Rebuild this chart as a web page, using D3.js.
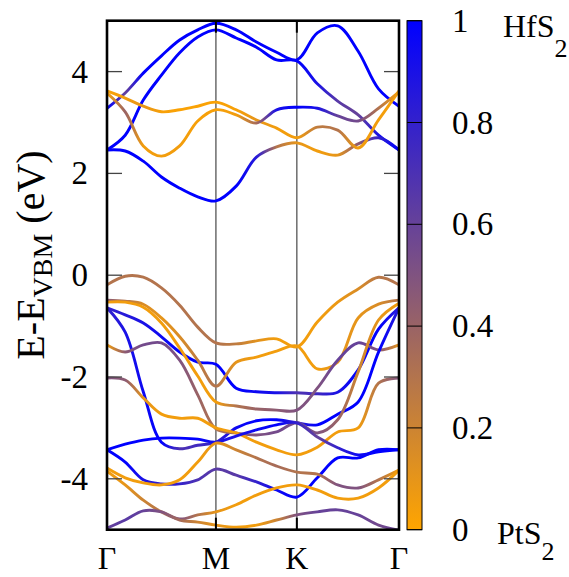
<!DOCTYPE html>
<html>
<head>
<meta charset="utf-8">
<script src="https://cdn.jsdelivr.net/npm/d3@7"></script>
<style>
  body { margin: 0; background: #fff; }
</style>
</head>
<body>
<div id="chart"></div>
<script>
const kGrid = [0, 0.167, 0.333, 0.5, 0.667, 0.833, 1, 1.186, 1.372, 1.557, 1.743, 1.931, 2.118, 2.306, 2.493, 2.681];
const kTicks = [0, 1, 1.743, 2.681];
const kLabels = ['Γ', 'M', 'K', 'Γ'];
const yTicks = [-4, -2, 0, 2, 4];
const cbTicks = [0, 0.2, 0.4, 0.6, 0.8, 1];
const cbLabels = ['0', '0.2', '0.4', '0.6', '0.8', '1'];

// band energies (eV) and HfS2 weight at each k point
const cTop = [3.28, 3.58, 3.97, 4.31, 4.62, 4.82, 4.95, 4.82, 4.58, 4.38, 4.23, 4.76, 4.90, 4.40, 3.66, 3.32];
const wTop = [1, .6, 1, 1, 1, 1, 1, 1, 1, 1, 1, 1, 1, 1, 1, 1];
const cSecond = [2.46, 2.75, 3.44, 3.93, 4.37, 4.68, 4.82, 4.66, 4.48, 4.23, 4.21, 3.76, 3.42, 3.15, 2.75, 2.46];
const wSecond = [1, 1, 1, 1, 1, 1, 1, 1, 1, 1, 1, .9, .65, .6, .9, 1];
const cLow = [2.46, 2.44, 2.24, 1.93, 1.71, 1.54, 1.46, 1.75, 2.32, 2.52, 2.60, 2.44, 2.36, 2.58, 2.70, 2.46];
const wLow = [1, 1, 1, 1, 1, 1, 1, 1, .85, .3, .1, .05, .1, .45, .8, 1];
const cOrA = [3.62, 3.48, 3.32, 3.21, 3.25, 3.32, 3.40, 3.25, 3.05, 2.89, 2.70, 2.91, 2.85, 2.50, 3.05, 3.62];
const wOrA = [.02, .05, .1, .03, .02, .02, .02, .03, .1, .05, .05, .25, .3, .05, .05, .02];
const cOrB = [3.58, 3.21, 2.54, 2.34, 2.54, 3.03, 3.25, 3.15, 2.99, 3.25, 3.30, 3.28, 3.13, 3.03, 3.28, 3.60];
const wOrB = [.02, .4, .05, .05, .05, .03, .03, .05, .35, .9, 1, .9, .6, .55, .3, .02];

const v1 = [-0.19, -0.02, -0.04, -0.25, -0.59, -1.02, -1.33, -1.35, -1.29, -1.25, -1.41, -0.92, -0.53, -0.27, -0.04, -0.19];
const w1 = [.3, .3, .3, .3, .3, .3, .3, .25, .12, .05, .05, .05, .08, .15, .28, .3];
const v2 = [-0.64, -0.78, -0.94, -1.21, -1.51, -1.71, -1.75, -2.22, -2.29, -2.31, -2.31, -2.33, -2.30, -1.86, -1.06, -0.64];
const w2 = [.8, .85, .9, .95, 1, 1, 1, 1, .95, .9, .7, .75, .9, 1, 1, .85];
const v3 = [-0.49, -0.51, -0.57, -0.84, -1.21, -1.67, -2.18, -1.71, -1.61, -1.49, -1.39, -1.84, -1.71, -0.84, -0.57, -0.49];
const w3 = [.45, .3, .15, .1, .15, .25, .3, .1, .05, .05, .05, .05, .1, .1, .15, .3];
const v4 = [-0.53, -0.53, -0.63, -0.94, -1.43, -1.98, -2.49, -2.57, -2.63, -2.65, -2.65, -2.22, -1.67, -1.33, -1.47, -1.37];
const w4 = [.05, .05, .05, .05, .05, .05, .05, .3, .4, .45, .5, .5, .6, .6, .5, .1];
const v5 = [-0.64, -1.12, -2.29, -3.28, -3.41, -3.34, -3.28, -3.00, -2.86, -2.84, -2.90, -2.94, -2.73, -2.49, -1.51, -0.64];
const w5 = [.8, .9, .95, 1, .7, .75, .8, .95, 1, 1, .8, 1, 1, 1, 1, .85];
const v6 = [-1.37, -1.51, -1.37, -1.33, -1.67, -2.35, -3.02, -3.10, -3.14, -3.08, -2.90, -3.10, -2.84, -1.90, -0.88, -0.55];
const w6 = [.05, .45, .55, .55, .5, .4, .3, .45, .5, .55, .55, .5, .4, .2, .1, .05];
const v7 = [-2.02, -2.06, -2.41, -2.73, -2.81, -2.81, -3.00, -3.10, -3.28, -3.43, -3.53, -3.38, -3.08, -3.00, -2.12, -2.02];
const w7 = [.5, .45, .1, .05, .05, .05, .05, .05, .05, .05, .05, .05, .05, .05, .3, .5];
const v8 = [-3.43, -3.67, -4.02, -4.10, -4.10, -4.02, -3.81, -3.93, -4.06, -4.22, -4.36, -3.98, -3.59, -3.59, -3.43, -3.43];
const w8 = [1, 1, .9, .8, .8, .7, .65, .65, .8, .95, 1, 1, 1, 1, 1, 1];
const v9 = [-3.43, -3.32, -3.24, -3.20, -3.20, -3.22, -3.28, -3.16, -3.04, -2.94, -2.90, -3.18, -3.39, -3.53, -3.47, -3.43];
const w9 = [1, 1, 1, 1, 1, 1, .9, .9, .95, 1, .8, .6, .8, .95, 1, 1];
const v10 = [-3.79, -3.98, -4.08, -4.12, -4.02, -3.67, -3.30, -3.43, -3.59, -3.75, -3.87, -3.91, -4.12, -4.18, -4.02, -3.83];
const w10 = [.05, .05, .05, .05, .05, .05, .1, .2, .3, .35, .3, .3, .5, .5, .3, .05];
const v11 = [-3.85, -4.12, -4.42, -4.65, -4.79, -4.71, -4.65, -4.51, -4.32, -4.18, -4.12, -4.22, -4.38, -4.38, -4.18, -3.83];
const w11 = [.05, .1, .2, .3, .5, .3, .1, .05, .05, .05, .05, .05, .05, .05, .05, .05];
const v12 = [-4.97, -4.81, -4.63, -4.65, -4.81, -4.85, -4.91, -4.95, -4.91, -4.81, -4.71, -4.65, -4.61, -4.71, -4.91, -5.01];
const w12 = [.6, .65, .6, .5, .35, .2, .1, .05, .05, .2, .5, .6, .6, .6, .55, .6];

const bands = [
  [cTop, wTop], [cSecond, wSecond], [cLow, wLow], [cOrA, wOrA], [cOrB, wOrB],
  [v1, w1], [v2, w2], [v3, w3], [v4, w4], [v5, w5], [v6, w6],
  [v7, w7], [v8, w8], [v9, w9], [v10, w10], [v11, w11], [v12, w12],
];

// pick the first installed serif face (canvas width test against generic fallbacks)
function pickSerif(candidates) {
  const ctx = document.createElement('canvas').getContext('2d');
  const sample = 'E-EVBM (eV) 0.8 HfS PtS ΓMK';
  const generics = ['monospace', 'sans-serif'];
  const base = generics.map(g => {
    ctx.font = `40px ${g}`;
    return ctx.measureText(sample).width;
  });
  for (const f of candidates) {
    const found = generics.every((g, i) => {
      ctx.font = `40px "${f}", ${g}`;
      return Math.abs(ctx.measureText(sample).width - base[i]) > 0.5;
    });
    if (found) return `"${f}", serif`;
  }
  return 'serif';
}
const serif = pickSerif(['Liberation Serif', 'Times New Roman', 'Tinos', 'Nimbus Roman', 'DejaVu Serif', 'Noto Serif', 'FreeSerif']);

const W = 569, H = 577;
const plot = { left: 107, right: 399, top: 20.7, bottom: 529.7 };

const svg = d3.select('#chart').append('svg')
  .attr('width', W)
  .attr('height', H)
  .style('font-family', serif);

const x = d3.scaleLinear().domain([0, kTicks[3]]).range([plot.left, plot.right]);
const y = d3.scaleLinear().domain([-5, 5]).range([plot.bottom, plot.top]);
const color = d3.scaleLinear().domain([0, 1]).range(['#ffa500', '#0000ff']).interpolate(d3.interpolateRgb);

const defs = svg.append('defs');
defs.append('clipPath').attr('id', 'plot-clip')
  .append('rect')
  .attr('x', plot.left)
  .attr('y', plot.top)
  .attr('width', plot.right - plot.left)
  .attr('height', plot.bottom - plot.top);

// high-symmetry lines
svg.append('g').selectAll('line')
  .data(kTicks.slice(1, 3))
  .join('line')
  .attr('x1', d => x(d)).attr('x2', d => x(d))
  .attr('y1', plot.top).attr('y2', plot.bottom)
  .attr('stroke', '#555')
  .attr('stroke-width', 1.3);

// bands, coloured along k by a horizontal gradient
const line = d3.line()
  .x((d, i) => x(kGrid[i]))
  .y(d => y(d))
  .curve(d3.curveCatmullRom.alpha(0.5));

bands.forEach(([energies, weights], b) => {
  const grad = defs.append('linearGradient')
    .attr('id', `band-${b}`)
    .attr('gradientUnits', 'userSpaceOnUse')
    .attr('x1', x(0)).attr('x2', x(kTicks[3]))
    .attr('y1', 0).attr('y2', 0);
  grad.selectAll('stop')
    .data(weights)
    .join('stop')
    .attr('offset', (d, i) => kGrid[i] / kTicks[3])
    .attr('stop-color', d => color(d));

  svg.append('path')
    .datum(energies)
    .attr('clip-path', 'url(#plot-clip)')
    .attr('fill', 'none')
    .attr('stroke', `url(#band-${b})`)
    .attr('stroke-width', 2.9)
    .attr('d', line);
});

// ticks inside the frame
const tickG = svg.append('g').attr('stroke', '#444').attr('stroke-width', 1.3);
yTicks.forEach(t => {
  tickG.append('line').attr('x1', plot.left).attr('x2', plot.left + 15).attr('y1', y(t)).attr('y2', y(t));
  tickG.append('line').attr('x1', plot.right - 15).attr('x2', plot.right).attr('y1', y(t)).attr('y2', y(t));
});
kTicks.slice(1, 3).forEach(t => {
  tickG.append('line').attr('x1', x(t)).attr('x2', x(t)).attr('y1', plot.bottom).attr('y2', plot.bottom - 12).attr('stroke', '#000').attr('stroke-width', 2);
  tickG.append('line').attr('x1', x(t)).attr('x2', x(t)).attr('y1', plot.top).attr('y2', plot.top + 12).attr('stroke', '#000').attr('stroke-width', 2);
});

svg.append('rect')
  .attr('x', plot.left).attr('y', plot.top)
  .attr('width', plot.right - plot.left)
  .attr('height', plot.bottom - plot.top)
  .attr('fill', 'none')
  .attr('stroke', '#000')
  .attr('stroke-width', 2.6);

// axis labels
svg.append('g').selectAll('text')
  .data(yTicks)
  .join('text')
  .attr('x', 88)
  .attr('y', d => y(d) + 11)
  .attr('text-anchor', 'end')
  .attr('font-size', 33)
  .text(d => d);

svg.append('g').selectAll('text')
  .data(kTicks)
  .join('text')
  .attr('x', d => x(d))
  .attr('y', 569)
  .attr('text-anchor', 'middle')
  .attr('font-size', 32)
  .text((d, i) => kLabels[i]);

const ylab = svg.append('text')
  .attr('transform', 'translate(44, 255) rotate(-90)')
  .attr('text-anchor', 'middle')
  .attr('font-size', 40);
ylab.append('tspan').text('E-E');
ylab.append('tspan').attr('font-size', 28).attr('dy', 8).text('VBM');
ylab.append('tspan').attr('dy', -8).text(' (eV)');

// colour bar
const cb = { left: 407, width: 15 };
const cbY = d3.scaleLinear().domain([0, 1]).range([plot.bottom, plot.top]);
const cbGrad = defs.append('linearGradient')
  .attr('id', 'cb-grad')
  .attr('x1', 0).attr('x2', 0).attr('y1', 1).attr('y2', 0);
cbGrad.selectAll('stop')
  .data(d3.range(0, 1.0001, 0.1))
  .join('stop')
  .attr('offset', d => d)
  .attr('stop-color', d => color(d));

svg.append('rect')
  .attr('x', cb.left).attr('y', cbY(1))
  .attr('width', cb.width).attr('height', cbY(0) - cbY(1))
  .attr('fill', 'url(#cb-grad)')
  .attr('stroke', '#000')
  .attr('stroke-width', 1);

svg.append('g').selectAll('line')
  .data(cbTicks)
  .join('line')
  .attr('x1', cb.left).attr('x2', cb.left + cb.width)
  .attr('y1', d => cbY(d)).attr('y2', d => cbY(d))
  .attr('stroke', '#000')
  .attr('stroke-width', 1);

svg.append('g').selectAll('text')
  .data(cbTicks)
  .join('text')
  .attr('x', 452)
  .attr('y', d => cbY(d) + 11)
  .attr('font-size', 33)
  .text((d, i) => cbLabels[i]);

const hfsLabel = svg.append('text').attr('x', 503).attr('y', 37).attr('font-size', 32);
hfsLabel.append('tspan').text('HfS');
hfsLabel.append('tspan').attr('font-size', 26).attr('dy', 20).text('2');

const ptsLabel = svg.append('text').attr('x', 497).attr('y', 544).attr('font-size', 32);
ptsLabel.append('tspan').text('PtS');
ptsLabel.append('tspan').attr('font-size', 26).attr('dy', 16).text('2');
</script>
</body>
</html>
